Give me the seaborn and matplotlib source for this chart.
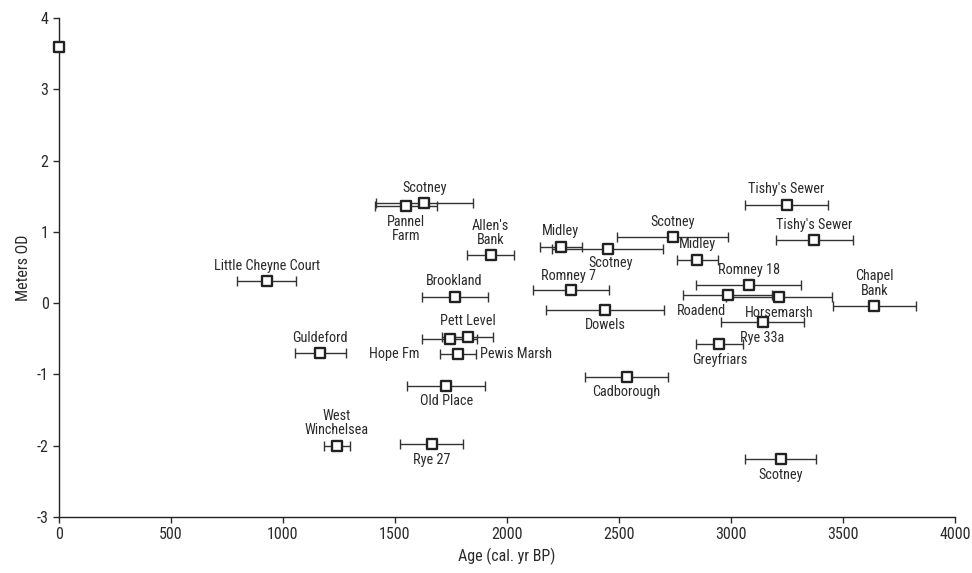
import matplotlib
matplotlib.use("Agg")
import matplotlib.pyplot as plt
from matplotlib import font_manager
import seaborn as sns
import pandas as pd

# Sample sites: age (cal. yr BP), elevation (m OD), age error (+/- yr)
sites = [
    "", "Little Cheyne Court", "Scotney", "Pannel\nFarm", "Allen's\nBank",
    "Brookland", "Pett Level", "Hope Fm", "Pewis Marsh", "Guldeford",
    "Old Place", "West\nWinchelsea", "Rye 27", "Midley", "Scotney",
    "Scotney", "Midley", "Romney 7", "Dowels", "Cadborough", "Romney 18",
    "Roadend", "Horsemarsh", "Rye 33a", "Greyfriars", "Tishy's Sewer",
    "Tishy's Sewer", "Chapel\nBank", "Scotney",
]
ages = [
    0, 927, 1631, 1550, 1927,
    1766, 1824, 1744, 1780, 1167,
    1729, 1241, 1663, 2240, 2449,
    2739, 2850, 2287, 2437, 2534, 3079,
    2985, 3214, 3141, 2948, 3248,
    3372, 3640, 3222,
]
elev = [
    3.59, 0.31, 1.40, 1.36, 0.67,
    0.09, -0.47, -0.50, -0.71, -0.70,
    -1.16, -2.00, -1.98, 0.79, 0.76,
    0.93, 0.61, 0.18, -0.09, -1.03, 0.25,
    0.11, 0.08, -0.27, -0.58, 1.38,
    0.88, -0.04, -2.19,
]
age_err = [
    0, 133, 216, 138, 104,
    147, 114, 124, 80, 115,
    174, 58, 140, 93, 249,
    248, 93, 170, 262, 185, 233,
    198, 236, 184, 104, 185,
    171, 184, 158,
]
# where each label sits relative to its point
label_pos = [
    None, "above", "above", "below", "above",
    "above", "above", "hope", "right", "above",
    "below", "above", "below", "above", "below_r",
    "above", "above", "above_l", "below", "below", "above",
    "roadend", "below", "below", "below", "above",
    "above", "above", "below",
]

df = pd.DataFrame({"site": sites, "age": ages, "elev": elev, "err": age_err})

sns.set_style("ticks")

# prefer a narrow Arial-like face if one is installed
names = {f.name for f in font_manager.fontManager.ttflist}
narrow = [n for n in ["Liberation Sans Narrow", "Arial Narrow", "Roboto Condensed",
                      "Noto Sans Condensed", "Open Sans Condensed"] if n in names]
if narrow:
    plt.rcParams["font.family"] = [narrow[0], "DejaVu Sans"]
    fs, lfs = 11.5, 10.3
else:
    plt.rcParams["font.family"] = ["Liberation Sans", "DejaVu Sans"]
    fs, lfs = 10, 9.5
plt.rcParams["axes.unicode_minus"] = False

fig = plt.figure(figsize=(9.72, 5.73), dpi=100)
ax = fig.add_axes([0.0607, 0.0977, 0.9218, 0.8709])

has_err = df["err"] > 0
ax.errorbar(df.loc[has_err, "age"], df.loc[has_err, "elev"], xerr=df.loc[has_err, "err"],
            fmt="none", ecolor="#333333", elinewidth=1.0, capsize=3.5, capthick=1.0, zorder=2)
sns.scatterplot(data=df, x="age", y="elev", marker="s", s=58, facecolor="white",
                edgecolor="#222222", linewidth=1.7, ax=ax, zorder=3, clip_on=False)

txt = dict(fontsize=lfs, color="#2a2a2a", linespacing=1.05, textcoords="offset points")
for i, r in df.iterrows():
    pos = label_pos[i]
    if pos is None:
        continue
    x, y, e = r["age"], r["elev"], r["err"]
    if pos == "above":
        ax.annotate(r["site"], (x, y), xytext=(0, 6), ha="center", va="bottom", **txt)
    elif pos == "above_l":
        ax.annotate(r["site"], (x, y), xytext=(-2, 5), ha="center", va="bottom", **txt)
    elif pos == "below":
        ax.annotate(r["site"], (x, y), xytext=(0, -6), ha="center", va="top", **txt)
    elif pos == "below_r":
        ax.annotate(r["site"], (x, y), xytext=(2, -5), ha="center", va="top", **txt)
    elif pos == "right":
        ax.annotate(r["site"], (x + e, y), xytext=(3, 0), ha="left", va="center", **txt)
    elif pos == "hope":
        ax.annotate(r["site"], (x - e, y), xytext=(-2, -11), ha="right", va="center", **txt)
    elif pos == "roadend":
        ax.annotate(r["site"], (x, y), xytext=(-1, -6), ha="right", va="top", **txt)

ax.set_xlim(0, 4000)
ax.set_ylim(-3, 4)
ax.set_xticks(range(0, 4001, 500))
ax.set_yticks(range(-3, 5))
ax.set_xlabel("Age (cal. yr BP)", fontsize=fs, color="#2a2a2a")
ax.set_ylabel("Meters OD", fontsize=fs, color="#2a2a2a")
ax.tick_params(labelsize=fs, length=4, width=1, colors="#2a2a2a")
for s in ["left", "bottom"]:
    ax.spines[s].set_color("#222222")
    ax.spines[s].set_linewidth(1.0)
sns.despine(ax=ax)

fig.savefig("out.png", dpi=100)
